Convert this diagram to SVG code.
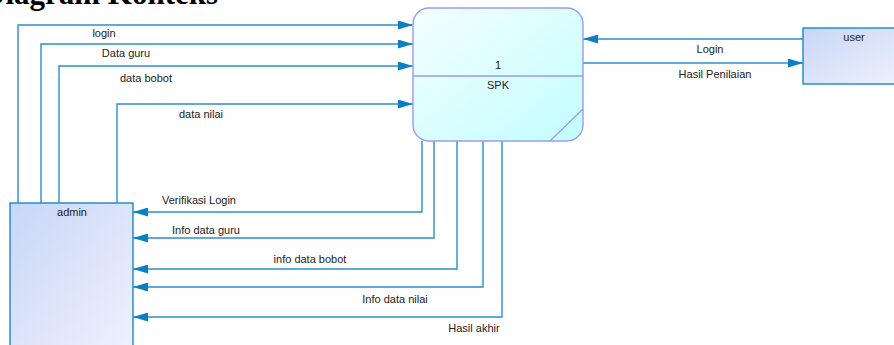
<svg xmlns="http://www.w3.org/2000/svg" width="894" height="345" viewBox="0 0 894 345">
  <defs>
    <linearGradient id="gProc" x1="0" y1="0" x2="1" y2="1">
      <stop offset="0" stop-color="#f4ffff"/>
      <stop offset="1" stop-color="#c2fdff"/>
    </linearGradient>
    <linearGradient id="gExt" x1="0" y1="0" x2="1" y2="1">
      <stop offset="0" stop-color="#c8d6f6"/>
      <stop offset="1" stop-color="#eff2fd"/>
    </linearGradient>
    <marker id="arrow" viewBox="0 0 15 9" refX="15" refY="4.5" markerWidth="15" markerHeight="9" markerUnits="userSpaceOnUse" orient="auto">
      <path d="M0,0 L15,4.5 L0,9 Z" fill="#0a7fc4"/>
    </marker>
  </defs>
  <style>
    .flow { fill: none; stroke: #2b8fcb; stroke-width: 1.4; marker-end: url(#arrow); }
    .lbl { font-family: "Liberation Sans", Arial, sans-serif; font-size: 11px; fill: #222; }
    .title { font-family: "Liberation Serif", "Times New Roman", serif; font-size: 31px; font-weight: bold; fill: #000; }
    .ext { fill: url(#gExt); stroke: #1a88c9; stroke-width: 1.4; }
    .proc { fill: url(#gProc); stroke: #9a9af5; stroke-width: 1.4; }
  </style>

  <text class="title" x="-17" y="4">Diagram Konteks</text>

  <!-- data flows -->
  <g id="connectors">
    <!-- admin to SPK -->
    <path class="flow" d="M18,203 V25 H413"/>
    <path class="flow" d="M41,203 V44 H413"/>
    <path class="flow" d="M59,203 V66 H413"/>
    <path class="flow" d="M117,203 V104 H413"/>
    <!-- SPK to admin -->
    <path class="flow" d="M422,141 V212 H133"/>
    <path class="flow" d="M434,141 V238 H133"/>
    <path class="flow" d="M457,141 V269 H133"/>
    <path class="flow" d="M483,141 V287 H133"/>
    <path class="flow" d="M502,141 V317 H133"/>
    <!-- user and SPK -->
    <path class="flow" d="M803,39 H583"/>
    <path class="flow" d="M583,63 H803"/>

    <text class="lbl" x="104" y="37" text-anchor="middle">login</text>
    <text class="lbl" x="126" y="57" text-anchor="middle">Data guru</text>
    <text class="lbl" x="146" y="82" text-anchor="middle">data bobot</text>
    <text class="lbl" x="201" y="118" text-anchor="middle">data nilai</text>

    <text class="lbl" x="199" y="204" text-anchor="middle">Verifikasi Login</text>
    <text class="lbl" x="206" y="234" text-anchor="middle">Info data guru</text>
    <text class="lbl" x="310" y="263" text-anchor="middle">info data bobot</text>
    <text class="lbl" x="395" y="303" text-anchor="middle">Info data nilai</text>
    <text class="lbl" x="474" y="332" text-anchor="middle">Hasil akhir</text>

    <text class="lbl" x="710" y="53" text-anchor="middle">Login</text>
    <text class="lbl" x="715" y="78" text-anchor="middle">Hasil Penilaian</text>
  </g>

  <!-- process 1: SPK -->
  <g id="spk">
    <rect class="proc" x="413" y="8" width="170" height="133" rx="16" ry="16"/>
    <line x1="413" y1="76" x2="583" y2="76" stroke="#9a9af5" stroke-width="1.4"/>
    <line x1="550" y1="141" x2="583" y2="109" stroke="#9a9af5" stroke-width="1.2"/>
    <text class="lbl" x="498" y="69" text-anchor="middle">1</text>
    <text class="lbl" x="498" y="89" text-anchor="middle">SPK</text>
  </g>

  <!-- external entity: admin -->
  <g id="admin">
    <rect class="ext" x="10" y="203" width="123" height="150"/>
    <text class="lbl" x="72" y="216" text-anchor="middle">admin</text>
  </g>

  <!-- external entity: user -->
  <g id="user">
    <rect class="ext" x="803" y="28" width="102" height="56"/>
    <text class="lbl" x="854" y="41" text-anchor="middle">user</text>
  </g>
</svg>
